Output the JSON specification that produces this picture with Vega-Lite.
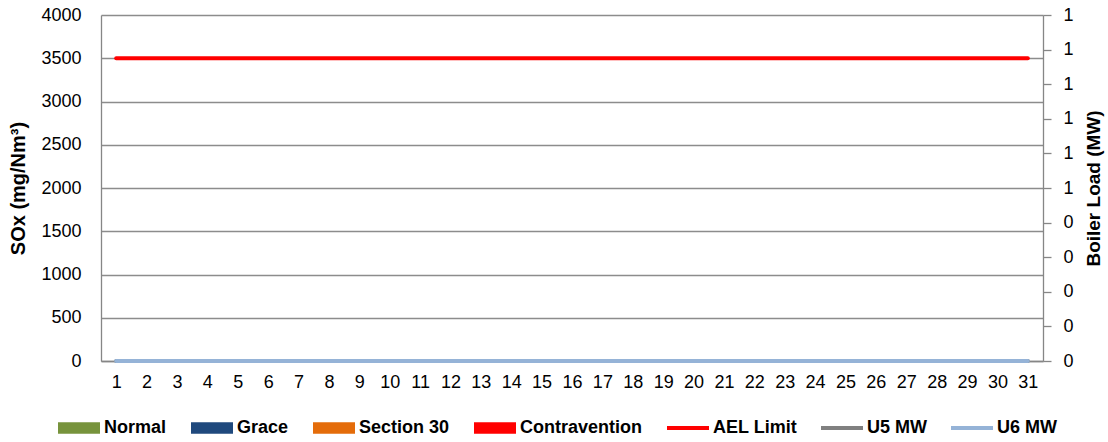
{
  "$schema": "https://vega.github.io/schema/vega-lite/v6.json",
  "width": 942,
  "height": 346,
  "autosize": {"type": "none"},
  "padding": {"left": 101, "top": 15, "right": 65, "bottom": 81},
  "config": {
    "view": {"stroke": null},
    "font": "Liberation Sans",
    "axis": {
      "labelFont": "Liberation Sans",
      "labelFontSize": 18,
      "labelColor": "#000000",
      "labelOverlap": false,
      "titleFont": "Liberation Sans",
      "titleFontWeight": "bold",
      "titleColor": "#000000",
      "domainColor": "#868686",
      "domainWidth": 1.3,
      "gridColor": "#8C8C8C",
      "gridWidth": 1.3,
      "tickColor": "#868686",
      "tickWidth": 1.3
    },
    "legend": {
      "orient": "none",
      "legendX": -43,
      "legendY": 392,
      "direction": "horizontal",
      "padding": 0,
      "labelFont": "Liberation Sans",
      "labelFontSize": 18,
      "labelFontWeight": "bold",
      "labelColor": "#000000",
      "labelOffset": 4,
      "labelLimit": 400,
      "columnPadding": 24,
      "symbolSize": 1764,
      "symbolStrokeWidth": 0,
      "symbolOpacity": 1,
      "symbolOffset": 0
    }
  },
  "data": {
    "values": [
      {"day": 1, "series": "AEL Limit", "value": 3500}, {"day": 2, "series": "AEL Limit", "value": 3500}, {"day": 3, "series": "AEL Limit", "value": 3500}, {"day": 4, "series": "AEL Limit", "value": 3500}, {"day": 5, "series": "AEL Limit", "value": 3500}, {"day": 6, "series": "AEL Limit", "value": 3500}, {"day": 7, "series": "AEL Limit", "value": 3500}, {"day": 8, "series": "AEL Limit", "value": 3500}, {"day": 9, "series": "AEL Limit", "value": 3500}, {"day": 10, "series": "AEL Limit", "value": 3500}, {"day": 11, "series": "AEL Limit", "value": 3500}, {"day": 12, "series": "AEL Limit", "value": 3500}, {"day": 13, "series": "AEL Limit", "value": 3500}, {"day": 14, "series": "AEL Limit", "value": 3500}, {"day": 15, "series": "AEL Limit", "value": 3500}, {"day": 16, "series": "AEL Limit", "value": 3500}, {"day": 17, "series": "AEL Limit", "value": 3500}, {"day": 18, "series": "AEL Limit", "value": 3500}, {"day": 19, "series": "AEL Limit", "value": 3500}, {"day": 20, "series": "AEL Limit", "value": 3500}, {"day": 21, "series": "AEL Limit", "value": 3500}, {"day": 22, "series": "AEL Limit", "value": 3500}, {"day": 23, "series": "AEL Limit", "value": 3500}, {"day": 24, "series": "AEL Limit", "value": 3500}, {"day": 25, "series": "AEL Limit", "value": 3500}, {"day": 26, "series": "AEL Limit", "value": 3500}, {"day": 27, "series": "AEL Limit", "value": 3500}, {"day": 28, "series": "AEL Limit", "value": 3500}, {"day": 29, "series": "AEL Limit", "value": 3500}, {"day": 30, "series": "AEL Limit", "value": 3500}, {"day": 31, "series": "AEL Limit", "value": 3500},
      {"day": 1, "series": "U5 MW", "value": 0}, {"day": 2, "series": "U5 MW", "value": 0}, {"day": 3, "series": "U5 MW", "value": 0}, {"day": 4, "series": "U5 MW", "value": 0}, {"day": 5, "series": "U5 MW", "value": 0}, {"day": 6, "series": "U5 MW", "value": 0}, {"day": 7, "series": "U5 MW", "value": 0}, {"day": 8, "series": "U5 MW", "value": 0}, {"day": 9, "series": "U5 MW", "value": 0}, {"day": 10, "series": "U5 MW", "value": 0}, {"day": 11, "series": "U5 MW", "value": 0}, {"day": 12, "series": "U5 MW", "value": 0}, {"day": 13, "series": "U5 MW", "value": 0}, {"day": 14, "series": "U5 MW", "value": 0}, {"day": 15, "series": "U5 MW", "value": 0}, {"day": 16, "series": "U5 MW", "value": 0}, {"day": 17, "series": "U5 MW", "value": 0}, {"day": 18, "series": "U5 MW", "value": 0}, {"day": 19, "series": "U5 MW", "value": 0}, {"day": 20, "series": "U5 MW", "value": 0}, {"day": 21, "series": "U5 MW", "value": 0}, {"day": 22, "series": "U5 MW", "value": 0}, {"day": 23, "series": "U5 MW", "value": 0}, {"day": 24, "series": "U5 MW", "value": 0}, {"day": 25, "series": "U5 MW", "value": 0}, {"day": 26, "series": "U5 MW", "value": 0}, {"day": 27, "series": "U5 MW", "value": 0}, {"day": 28, "series": "U5 MW", "value": 0}, {"day": 29, "series": "U5 MW", "value": 0}, {"day": 30, "series": "U5 MW", "value": 0}, {"day": 31, "series": "U5 MW", "value": 0},
      {"day": 1, "series": "U6 MW", "value": 0}, {"day": 2, "series": "U6 MW", "value": 0}, {"day": 3, "series": "U6 MW", "value": 0}, {"day": 4, "series": "U6 MW", "value": 0}, {"day": 5, "series": "U6 MW", "value": 0}, {"day": 6, "series": "U6 MW", "value": 0}, {"day": 7, "series": "U6 MW", "value": 0}, {"day": 8, "series": "U6 MW", "value": 0}, {"day": 9, "series": "U6 MW", "value": 0}, {"day": 10, "series": "U6 MW", "value": 0}, {"day": 11, "series": "U6 MW", "value": 0}, {"day": 12, "series": "U6 MW", "value": 0}, {"day": 13, "series": "U6 MW", "value": 0}, {"day": 14, "series": "U6 MW", "value": 0}, {"day": 15, "series": "U6 MW", "value": 0}, {"day": 16, "series": "U6 MW", "value": 0}, {"day": 17, "series": "U6 MW", "value": 0}, {"day": 18, "series": "U6 MW", "value": 0}, {"day": 19, "series": "U6 MW", "value": 0}, {"day": 20, "series": "U6 MW", "value": 0}, {"day": 21, "series": "U6 MW", "value": 0}, {"day": 22, "series": "U6 MW", "value": 0}, {"day": 23, "series": "U6 MW", "value": 0}, {"day": 24, "series": "U6 MW", "value": 0}, {"day": 25, "series": "U6 MW", "value": 0}, {"day": 26, "series": "U6 MW", "value": 0}, {"day": 27, "series": "U6 MW", "value": 0}, {"day": 28, "series": "U6 MW", "value": 0}, {"day": 29, "series": "U6 MW", "value": 0}, {"day": 30, "series": "U6 MW", "value": 0}, {"day": 31, "series": "U6 MW", "value": 0}
    ]
  },
  "encoding": {
    "x": {
      "field": "day",
      "type": "ordinal",
      "title": null,
      "axis": {"labelAngle": 0, "ticks": false, "labelPadding": 12, "grid": false, "labelOverlap": false}
    }
  },
  "layer": [
    {
      "encoding": {
        "y": {
          "field": "value",
          "type": "quantitative",
          "scale": {"domain": [0, 4000]},
          "axis": {
            "title": "SOx (mg/Nm³)",
            "titleFontSize": 20,
            "titleAngle": -90,
            "titleX": -83,
            "titleY": 173,
            "titleBaseline": "middle",
            "titleAlign": "center",
            "values": [0, 500, 1000, 1500, 2000, 2500, 3000, 3500, 4000],
            "format": "d",
            "ticks": false,
            "labelPadding": 20,
            "labelOverlap": false,
            "grid": true
          }
        }
      },
      "layer": [
        {
          "transform": [{"filter": "datum.series === 'AEL Limit'"}],
          "mark": {"type": "line", "color": "#FF0000", "strokeWidth": 4, "strokeCap": "round"}
        },
        {
          "transform": [{"filter": "datum.series === 'AEL Limit'"}],
          "mark": {"type": "point", "filled": true, "opacity": 0},
          "encoding": {
            "color": {
              "field": "series",
              "type": "nominal",
              "title": null,
              "scale": {
                "domain": ["Normal", "Grace", "Section 30", "Contravention", "AEL Limit", "U5 MW", "U6 MW"],
                "range": ["#77933C", "#1F497D", "#E46C0A", "#FF0000", "#FF0000", "#808080", "#95B3D7"]
              }
            },
            "shape": {
              "field": "series",
              "type": "nominal",
              "title": null,
              "scale": {
                "domain": ["Normal", "Grace", "Section 30", "Contravention", "AEL Limit", "U5 MW", "U6 MW"],
                "range": [
                  "M-1,-0.27L1,-0.27L1,0.27L-1,0.27Z",
                  "M-1,-0.27L1,-0.27L1,0.27L-1,0.27Z",
                  "M-1,-0.27L1,-0.27L1,0.27L-1,0.27Z",
                  "M-1,-0.27L1,-0.27L1,0.27L-1,0.27Z",
                  "M-1,-0.1L1,-0.1L1,0.1L-1,0.1Z",
                  "M-1,-0.1L1,-0.1L1,0.1L-1,0.1Z",
                  "M-1,-0.1L1,-0.1L1,0.1L-1,0.1Z"
                ]
              }
            }
          }
        }
      ]
    },
    {
      "encoding": {
        "y": {
          "field": "value",
          "type": "quantitative",
          "scale": {"domain": [0, 1]},
          "axis": {
            "orient": "right",
            "title": "Boiler Load (MW)",
            "titleFontSize": 19,
            "titleAngle": -90,
            "titleX": 50,
            "titleY": 173,
            "titleBaseline": "middle",
            "titleAlign": "center",
            "values": [0, 0.1, 0.2, 0.3, 0.4, 0.5, 0.6, 0.7, 0.8, 0.9, 1],
            "format": ".0f",
            "ticks": true,
            "tickSize": 8,
            "labelPadding": 12,
            "labelOverlap": false,
            "labelBound": false,
            "grid": false
          }
        }
      },
      "layer": [
        {
          "transform": [{"filter": "datum.series === 'U5 MW'"}],
          "mark": {"type": "line", "color": "#808080", "strokeWidth": 4, "strokeCap": "round"}
        },
        {
          "transform": [{"filter": "datum.series === 'U6 MW'"}],
          "mark": {"type": "line", "color": "#95B3D7", "strokeWidth": 4, "strokeCap": "round"}
        }
      ]
    }
  ],
  "resolve": {"scale": {"y": "independent"}}
}
